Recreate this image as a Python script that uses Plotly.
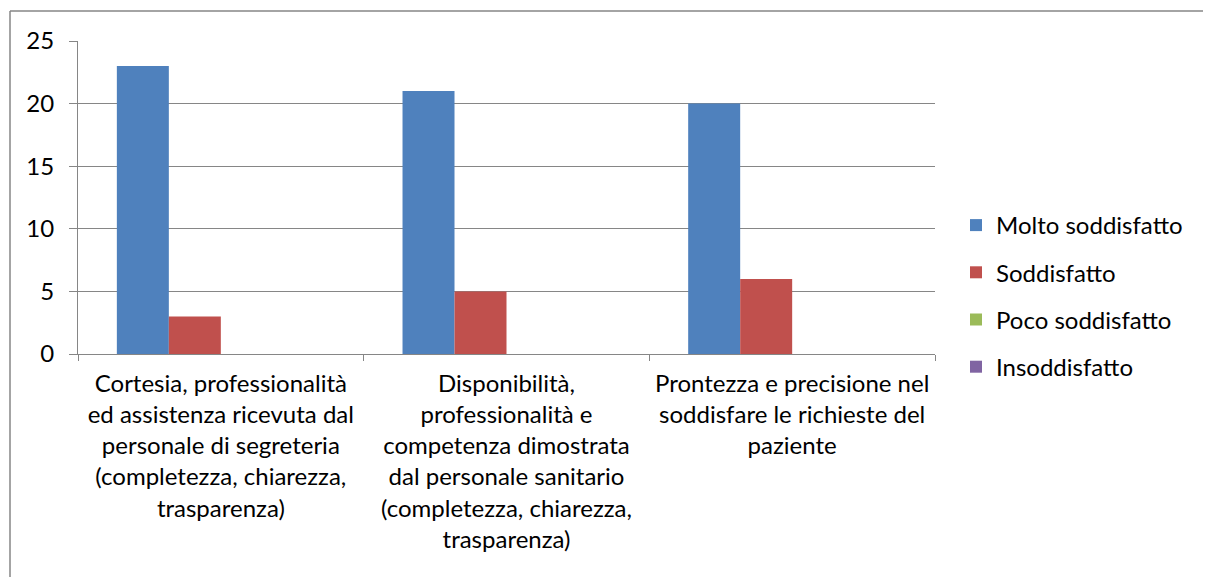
import plotly.graph_objects as go

categories = [
    "Cortesia, professionalità<br>ed assistenza ricevuta dal<br>personale di segreteria<br>(completezza, chiarezza,<br>trasparenza)",
    "Disponibilità,<br>professionalità e<br>competenza dimostrata<br>dal personale sanitario<br>(completezza, chiarezza,<br>trasparenza)",
    "Prontezza e precisione nel<br>soddisfare le richieste del<br>paziente",
]
series_names = ["Molto soddisfatto", "Soddisfatto", "Poco soddisfatto", "Insoddisfatto"]
molto = [23, 21, 20]
soddisfatto = [3, 5, 6]
poco = [0, 0, 0]
insoddisfatto = [0, 0, 0]
colors = ["#4F81BD", "#C0504D", "#9BBB59", "#8064A2"]

FONT = "Lato"
GRID = "#868686"
FS = 24

fig = go.Figure()
for i, (name, vals) in enumerate(zip(series_names, [molto, soddisfatto, poco, insoddisfatto])):
    fig.add_trace(go.Bar(x=categories, y=vals, name=name, marker=dict(color=colors[i], line=dict(width=0)),
                         legendgroup=f"g{i}"))

OFF = 8  # page body margin
W, H = 1211 - OFF, 577 - OFF
# target page-pixel positions of plot area
PL, PR, PT, PB = 78, 935, 41, 354
L = PL - OFF
T = PT - OFF
R = W - (PR - OFF)
B = H - (PB - OFF)
pw = W - L - R
ph = H - T - B

def px_to_paper_x(px):
    return (px - PL) / pw

def px_to_paper_y(py):
    return (PB - py) / ph

border = dict(color=GRID, width=1.5)
fig.update_layout(
    width=W, height=H,
    margin=dict(l=L, r=R, t=T, b=B, autoexpand=False),
    paper_bgcolor="white", plot_bgcolor="white",
    barmode="group", bargap=0.272, bargroupgap=0,
    font=dict(family=FONT, size=FS, color="black"),
    showlegend=True,
    legend=dict(x=px_to_paper_x(956), y=px_to_paper_y(203), xanchor="left", yanchor="top",
                tracegroupgap=13, font=dict(family=FONT, size=FS, color="black"),
                bgcolor="rgba(0,0,0,0)", itemwidth=30),
    xaxis=dict(showline=True, linecolor=GRID, linewidth=1, ticks="outside", tickson="boundaries",
               ticklen=6, tickcolor=GRID, showgrid=False, tickfont=dict(family=FONT, size=FS),
               ticklabelstandoff=8),
    yaxis=dict(range=[0, 25], dtick=5, showgrid=True, gridcolor=GRID, gridwidth=1,
               showline=True, linecolor=GRID, linewidth=1, ticks="outside", ticklen=8, tickcolor=GRID,
               zeroline=False, tickfont=dict(family=FONT, size=FS), ticklabelstandoff=10),
    shapes=[
        dict(type="line", xref="paper", yref="paper",
             x0=px_to_paper_x(10), x1=px_to_paper_x(1260),
             y0=px_to_paper_y(11), y1=px_to_paper_y(11), line=border, layer="below"),
        dict(type="line", xref="paper", yref="paper",
             x0=px_to_paper_x(10), x1=px_to_paper_x(10),
             y0=px_to_paper_y(11), y1=px_to_paper_y(640), line=border, layer="below"),
    ],
)

fig.write_html("out.html")
